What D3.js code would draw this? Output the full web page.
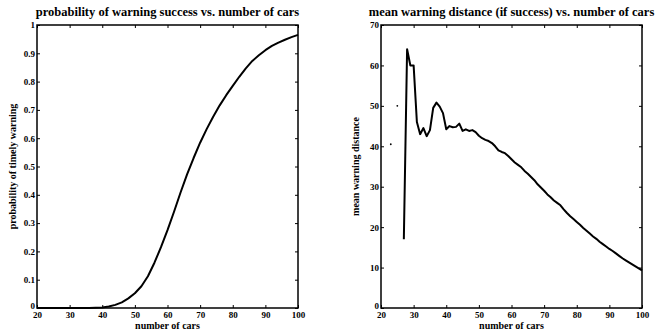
<!DOCTYPE html>
<html>
<head>
<meta charset="utf-8">
<script src="https://cdn.jsdelivr.net/npm/d3@7"></script>
<style>
  body { margin: 0; background: #fff; }
  svg text { font-family: "Liberation Serif", "Times New Roman", serif; font-weight: bold; fill: #000; }
</style>
</head>
<body>
<div class="container"></div>
<script>
// number of cars on x axis (both panels)
const xTicks = [20, 30, 40, 50, 60, 70, 80, 90, 100]

// left panel: probability of timely warning, every 2 cars
const probCars = [20, 22, 24, 26, 28, 30, 32, 34, 36, 38, 40, 42, 44, 46, 48, 50, 52, 54, 56, 58,
    60, 62, 64, 66, 68, 70, 72, 74, 76, 78, 80, 82, 84, 86, 88, 90, 92, 94, 96, 98, 100]
const probValues = [0, 0, 0, 0, 0, 0, 0, 0, 0, 0.001, 0.002, 0.005, 0.011, 0.020, 0.034, 0.052,
    0.077, 0.112, 0.160, 0.215, 0.275, 0.340, 0.408, 0.472, 0.530, 0.584, 0.632, 0.676, 0.716,
    0.752, 0.785, 0.817, 0.847, 0.873, 0.893, 0.911, 0.926, 0.938, 0.948, 0.957, 0.965]
const probTicks = [0, 0.1, 0.2, 0.3, 0.4, 0.5, 0.6, 0.7, 0.8, 0.9, 1]

// right panel: mean warning distance, every car (null = no success)
const distCars = d3.range(20, 101)
const distValues = [null, null, null, 40.5, null, 50, null, 17, 64, 60, 60, 46, 43, 44.5, 42.5, 44,
    49.5, 50.8, 49.8, 48.2, 44.2, 45, 44.7, 44.8, 45.6, 43.8, 44.2, 43.8, 44, 43.5,
    42.6, 42, 41.6, 41.3, 40.8, 40, 39, 38.6, 38.3, 37.6,
    36.8, 36, 35.4, 34.8, 33.9, 33.2, 32.4, 31.6, 30.6, 29.8,
    29, 28.1, 27.4, 26.6, 26, 25.4, 24.4, 23.5, 22.7, 22,
    21.3, 20.6, 19.8, 19.1, 18.4, 17.7, 17.1, 16.4, 15.8, 15.2,
    14.6, 14.1, 13.5, 12.9, 12.3, 11.8, 11.3, 10.8, 10.3, 9.8, 9.3]
const distTicks = [0, 10, 20, 30, 40, 50, 60, 70]

const width = 672
const height = 331

const svg = d3.select('.container')
    .append('svg')
    .attr('width', width)
    .attr('height', height)

const drawPanel = (opts) => {
    const x = d3.scaleLinear().domain([20, 100]).range([opts.left, opts.right])
    const y = d3.scaleLinear().domain(opts.yDomain).range([308, 25])

    const g = svg.append('g')

    // axes, ticks pointing inward like matlab
    const bottom = g.append('g')
        .attr('transform', 'translate(0,308)')
        .call(d3.axisBottom(x).tickValues(xTicks).tickSizeInner(-3).tickSizeOuter(0).tickPadding(4))
    const top = g.append('g')
        .attr('transform', 'translate(0,25)')
        .call(d3.axisTop(x).tickValues(xTicks).tickSizeInner(-3).tickSizeOuter(0).tickFormat(''))
    const leftAx = g.append('g')
        .attr('transform', `translate(${opts.left},0)`)
        .call(d3.axisLeft(y).tickValues(opts.yTicks).tickSizeInner(-3).tickSizeOuter(0).tickPadding(2)
            .tickFormat(opts.fmt))
    const rightAx = g.append('g')
        .attr('transform', `translate(${opts.right},0)`)
        .call(d3.axisRight(y).tickValues(opts.yTicks).tickSizeInner(-3).tickSizeOuter(0).tickFormat(''))

    ;[bottom, top, leftAx, rightAx].forEach(a => {
        a.select('.domain').remove()
        a.selectAll('line').attr('stroke', '#000').attr('stroke-width', 1)
        a.selectAll('text').style('font-size', '9px').style('font-family', '"Liberation Serif", serif')
            .style('font-weight', 'bold')
    })
    bottom.selectAll('text').attr('dy', '0.68em')
    // lift the bottom y label a little so it clears the x labels
    leftAx.selectAll('.tick').filter(d => d === 0).select('text').attr('dy', '0.1em')

    // box
    g.append('rect')
        .attr('x', opts.left)
        .attr('y', 25)
        .attr('width', opts.right - opts.left)
        .attr('height', 308 - 25)
        .attr('fill', 'none')
        .attr('stroke', '#000')
        .attr('stroke-width', 1.5)

    const pts = opts.xs.map((c, i) => ({ c: c, v: opts.ys[i] }))

    const line = d3.line()
        .defined(d => d.v != null)
        .x(d => x(d.c))
        .y(d => y(d.v))

    g.append('path')
        .datum(pts)
        .attr('fill', 'none')
        .attr('stroke', '#000')
        .attr('stroke-width', 2)
        .attr('stroke-linejoin', 'round')
        .attr('d', line)

    // isolated points show as dots
    const lonely = pts.filter((d, i) => d.v != null &&
        (i === 0 || pts[i - 1].v == null) && (i === pts.length - 1 || pts[i + 1].v == null))
    g.selectAll('circle.dot')
        .data(lonely)
        .enter()
        .append('circle')
        .attr('class', 'dot')
        .attr('cx', d => x(d.c))
        .attr('cy', d => y(d.v))
        .attr('r', 0.9)
        .attr('fill', '#000')

    // titles
    svg.append('text')
        .attr('x', (opts.left + opts.right) / 2)
        .attr('y', 16)
        .attr('text-anchor', 'middle')
        .style('font-size', '12.5px')
        .text(opts.title)

    svg.append('text')
        .attr('x', (opts.left + opts.right) / 2)
        .attr('y', 329)
        .attr('text-anchor', 'middle')
        .style('font-size', '10px')
        .text('number of cars')

    svg.append('text')
        .attr('transform', `translate(${opts.ylabelX},${(25 + 308) / 2}) rotate(-90)`)
        .attr('text-anchor', 'middle')
        .style('font-size', '10px')
        .text(opts.ylabel)
}

drawPanel({
    left: 37, right: 298,
    yDomain: [0, 1], yTicks: probTicks, fmt: d3.format('~g'),
    xs: probCars, ys: probValues,
    title: 'probability of warning success vs. number of cars',
    ylabel: 'probability of timely warning',
    ylabelX: 16
})

drawPanel({
    left: 381, right: 642,
    yDomain: [0, 70], yTicks: distTicks, fmt: d3.format('d'),
    xs: distCars, ys: distValues,
    title: 'mean warning distance (if success) vs. number of cars',
    ylabel: 'mean warning distance',
    ylabelX: 359
})
</script>
</body>
</html>
